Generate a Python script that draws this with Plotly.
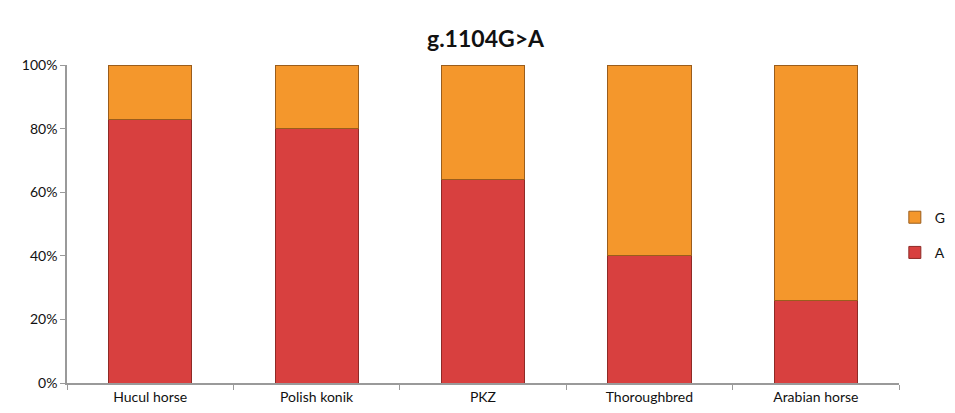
import plotly.graph_objects as go

categories = ["Hucul horse", "Polish konik", "PKZ", "Thoroughbred", "Arabian horse"]
allele_A = [0.83, 0.80, 0.64, 0.40, 0.26]
allele_G = [0.17, 0.20, 0.36, 0.60, 0.74]
y_ticks = [0, 0.2, 0.4, 0.6, 0.8, 1.0]
y_tick_labels = ["0%", "20%", "40%", "60%", "80%", "100%"]

FONT = "Lato, Open Sans, sans-serif"

fig = go.Figure()
fig.add_trace(go.Bar(
    x=categories, y=allele_A, name="A", legendgroup="A", legendrank=2,
    marker=dict(color="#d8403f", line=dict(color="#8e2a26", width=1)),
    width=0.5,
))
fig.add_trace(go.Bar(
    x=categories, y=allele_G, name="G", legendgroup="G", legendrank=1,
    marker=dict(color="#f4972c", line=dict(color="#9a5d1c", width=1)),
    width=0.5,
))

fig.update_layout(
    barmode="stack",
    width=955, height=413,
    margin=dict(l=59, r=59, t=57, b=38),
    paper_bgcolor="white", plot_bgcolor="white",
    title=dict(text="<b>g.1104G>A</b>", x=0.5, xanchor="center", y=0.925, yanchor="middle",
               font=dict(family=FONT, size=23, color="#111111")),
    font=dict(family=FONT, size=14, color="#111111"),
    legend=dict(x=0.995, xanchor="left", y=0.465, yanchor="middle", traceorder="grouped",
                font=dict(family=FONT, size=14, color="#111111"),
                tracegroupgap=14, bgcolor="rgba(0,0,0,0)"),
    showlegend=True,
)
fig.update_xaxes(
    showline=True, linecolor="#9a9a9a", linewidth=1.5,
    ticks="outside", tickson="boundaries", ticklen=5, tickcolor="#9a9a9a",
    showgrid=False, tickfont=dict(family=FONT, size=14, color="#111111"),
)
fig.update_yaxes(
    range=[0, 1.0], tickvals=y_ticks, ticktext=y_tick_labels,
    showline=True, linecolor="#9a9a9a", linewidth=1.5,
    ticks="outside", ticklen=5, tickcolor="#9a9a9a",
    showgrid=False, zeroline=False, tickfont=dict(family=FONT, size=14, color="#111111"),
)

fig.write_html("out.html")
